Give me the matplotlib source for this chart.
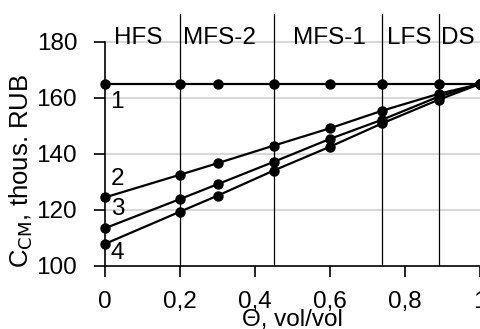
import matplotlib
matplotlib.use("Agg")
import matplotlib.pyplot as plt

plt.rcParams['font.family'] = ['Liberation Sans', 'DejaVu Sans']

theta = [0, 0.2, 0.3, 0.45, 0.6, 0.74, 0.89, 1.0]
s1 = [165, 165, 165, 165, 165, 165, 165, 165]
s2 = [124.5, 132.6, 136.7, 143.0, 149.2, 155.5, 161.5, 165]
s3 = [113.5, 123.9, 129.2, 137.2, 145.4, 152.3, 160.5, 165]
s4 = [107.9, 119.4, 125.1, 134.1, 142.6, 151.0, 159.4, 165]
series = [s1, s2, s3, s4]
series_labels = ["1", "2", "3", "4"]
label_pos = [(0.015, 158.5), (0.015, 131), (0.015, 120.5), (0.015, 104.5)]

boundaries = [0.2, 0.45, 0.74, 0.89]
zones = ["HFS", "MFS-2", "MFS-1", "LFS", "DS"]
zone_x = [0.09, 0.305, 0.598, 0.812, 0.94]

yticks = [100, 120, 140, 160, 180]
xticks = [0, 0.2, 0.4, 0.6, 0.8, 1.0]
xticklabels = ["0", "0,2", "0,4", "0,6", "0,8", "1"]

fs = 17.5
fig = plt.figure(figsize=(4.81, 3.29), dpi=100)
ax = fig.add_axes([105/481, 1-266/329, 375/481, 252/329])
ax.set_xlim(0, 1)
ax.set_ylim(100, 190)

for y in yticks[1:]:
    ax.axhline(y, color='#d9d9d9', lw=1.5, zorder=0)

for b in boundaries:
    ax.axvline(b, color='black', lw=0.9, zorder=1)

for s in series:
    ax.plot(theta, s, color='black', lw=1.6, marker='o', markersize=6.5, zorder=3, clip_on=False)

for lab, (x, y) in zip(series_labels, label_pos):
    ax.text(x, y, lab, fontsize=fs, ha='left', va='center')

for z, x in zip(zones, zone_x):
    ax.text(x, 181.5, z, fontsize=fs, ha='center', va='center')

for sp in ['top', 'right']:
    ax.spines[sp].set_visible(False)
ax.spines['left'].set_bounds(100, 180)
ax.spines['left'].set_linewidth(1.2)
ax.spines['bottom'].set_linewidth(1.2)

ax.set_yticks(yticks)
ax.set_yticklabels([str(v) for v in yticks], fontsize=fs)
ax.set_xticks(xticks)
ax.set_xticklabels(xticklabels, fontsize=fs)
ax.tick_params(axis='both', direction='out', length=8, width=1.2)
ax.tick_params(axis='x', pad=10)
ax.tick_params(axis='y', pad=12)

ax.set_ylabel("C$_{\\rm CM}$, thous. RUB", fontsize=18.5)
ax.yaxis.set_label_coords(-0.186, 0.377)
ax.set_xlabel("Θ, vol/vol", fontsize=fs)
ax.xaxis.set_label_coords(0.5, -0.172)

fig.savefig("out.png", dpi=100)
